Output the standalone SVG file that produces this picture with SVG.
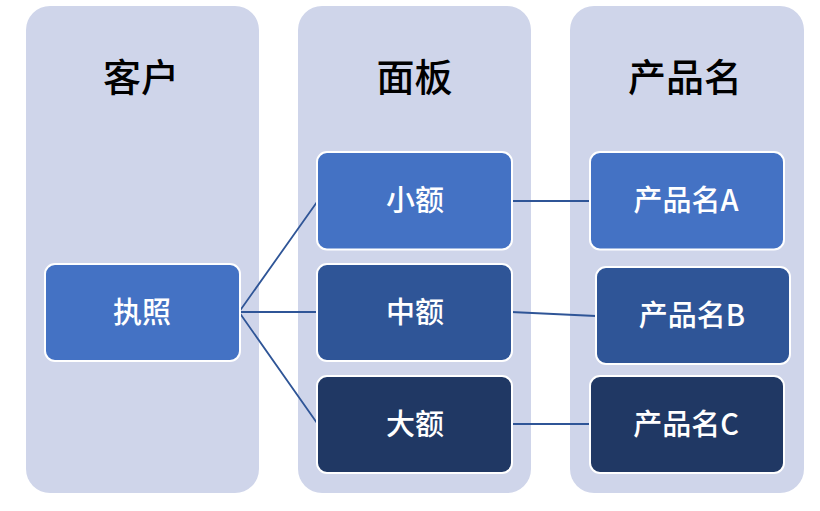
<svg xmlns="http://www.w3.org/2000/svg" width="820" height="511" viewBox="0 0 820 511">
<style>
.col{fill:#cfd5ea}
.box{stroke:#fff;stroke-width:2}
.c1{fill:#4472c4}.c2{fill:#2f5597}.c3{fill:#203864}
text{font-family:"Noto Sans CJK SC","Noto Sans",sans-serif;text-anchor:middle;font-weight:500}
.h{font-size:38px;fill:#000}
.t{font-size:29px;fill:#fff}
.l{stroke:#2f5597;stroke-width:1.8;fill:none}
</style>
<rect width="820" height="511" fill="#fff"/>
<g id="col-customer"><rect class="col" x="26" y="6" width="233" height="487" rx="24"/><text class="h" x="141" y="91">客户</text></g>
<g id="col-panel"><rect class="col" x="298" y="6" width="233" height="487" rx="24"/><text class="h" x="414.500" y="91">面板</text></g>
<g id="col-product"><rect class="col" x="570" y="6" width="234" height="487" rx="24"/><text class="h" x="685" y="91">产品名</text></g>
<g id="connectors">
<path class="l" d="M239 312L317 202M239 312H317M239 312L317 423M511 201H590M511 312L596 316M511 424H590"/>
</g>
<g id="n-license"><rect class="box c1" x="45" y="264" width="195" height="97" rx="10"/><text class="t" x="142" y="323">执照</text></g>
<g id="n-small"><rect class="box c1" x="317" y="152" width="195" height="97.500" rx="10"/><text class="t" x="415" y="211">小额</text></g>
<g id="n-mid"><rect class="box c2" x="317" y="264" width="195" height="97" rx="10"/><text class="t" x="415" y="323">中额</text></g>
<g id="n-large"><rect class="box c3" x="317" y="376" width="195" height="97" rx="10"/><text class="t" x="415" y="435">大额</text></g>
<g id="n-a"><rect class="box c1" x="590" y="152" width="194" height="97.500" rx="10"/><text class="t" x="686" y="211">产品名A</text></g>
<g id="n-b"><rect class="box c2" x="596" y="267" width="194" height="97" rx="10"/><text class="t" x="692" y="326">产品名B</text></g>
<g id="n-c"><rect class="box c3" x="590" y="376" width="194" height="97" rx="10"/><text class="t" x="686" y="435">产品名C</text></g>
</svg>
